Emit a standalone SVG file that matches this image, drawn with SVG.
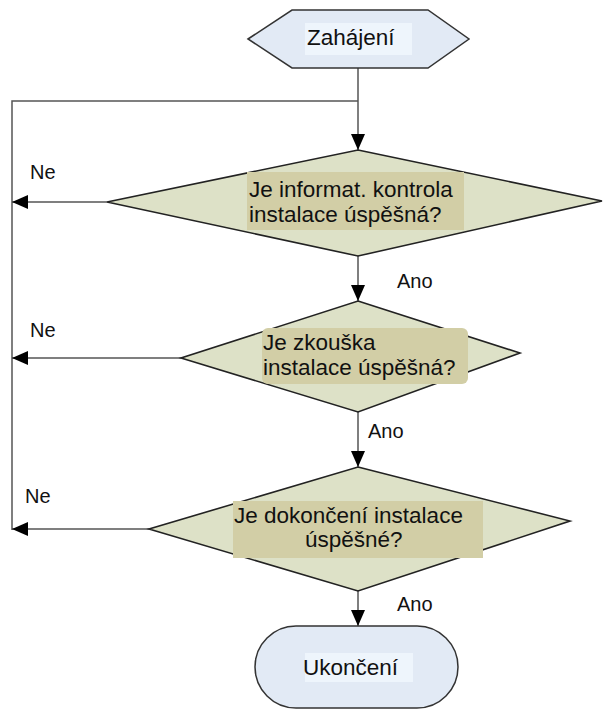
<svg xmlns="http://www.w3.org/2000/svg" width="603" height="709" viewBox="0 0 603 709">
<style>
.shapeA{fill:#e2eaf5;stroke:#333;stroke-width:1.5}
.shapeD{fill:#dde1c7;stroke:#222;stroke-width:1.6}
.boxD{fill:#d2cea6}
.boxA{fill:#eef5fc}
.t{font-family:"Liberation Sans",Arial,sans-serif;font-size:22.5px;fill:#111}
.l{font-family:"Liberation Sans",Arial,sans-serif;font-size:20px;fill:#111}
.c{fill:none;stroke:#555;stroke-width:1.5}
</style>
<defs>
<marker id="ah" viewBox="0 0 16 14" refX="16" refY="7" markerWidth="16" markerHeight="14" markerUnits="userSpaceOnUse" orient="auto">
<path d="M0,0 L16,7 L0,14 Z" fill="#000"/>
</marker>
</defs>
<rect width="603" height="709" fill="#fff"/>
<g id="connectors">
<path class="c" d="M358,68 V150" marker-end="url(#ah)"/>
<path class="c" d="M358,101 H12 V530"/>
<path class="c" d="M107,202 H12" marker-end="url(#ah)"/>
<path class="c" d="M358,256 V301" marker-end="url(#ah)"/>
<path class="c" d="M181,358 H12" marker-end="url(#ah)"/>
<path class="c" d="M358,412 V467" marker-end="url(#ah)"/>
<path class="c" d="M149,529 H12" marker-end="url(#ah)"/>
<path class="c" d="M358,591 V626" marker-end="url(#ah)"/>
<text class="l" x="30" y="179">Ne</text>
<text class="l" x="30" y="337">Ne</text>
<text class="l" x="25" y="503">Ne</text>
<text class="l" x="397" y="288">Ano</text>
<text class="l" x="368" y="438">Ano</text>
<text class="l" x="397" y="611">Ano</text>
</g>
<g id="start">
<polygon class="shapeA" points="248,39 292,10 428,10 469,39 428,68 292,68"/>
<rect class="boxA" x="305" y="23" width="107" height="32"/>
<text class="t" x="307" y="45">Zahájení</text>
</g>
<g id="decision1">
<polygon class="shapeD" points="358,150 602,201 358,256 107,202"/>
<rect class="boxD" x="247" y="172" width="217" height="58"/>
<text class="t" x="249" y="197">Je informat. kontrola</text>
<text class="t" x="249" y="222">instalace úspěšná?</text>
</g>
<g id="decision2">
<polygon class="shapeD" points="358,301 520,353 358,412 181,358"/>
<rect class="boxD" x="262" y="328" width="206" height="56" rx="6"/>
<text class="t" x="263" y="350">Je zkouška</text>
<text class="t" x="263" y="375">instalace úspěšná?</text>
</g>
<g id="decision3">
<polygon class="shapeD" points="358,467 570,521 358,591 149,529"/>
<rect class="boxD" x="233" y="501" width="250" height="57"/>
<text class="t" x="234" y="523">Je dokončení instalace</text>
<text class="t" x="305" y="547">úspěšné?</text>
</g>
<g id="end">
<rect class="shapeA" x="255" y="626" width="203" height="82" rx="41"/>
<rect class="boxA" x="305" y="653" width="108" height="29"/>
<text class="t" x="303" y="675">Ukončení</text>
</g>
</svg>
